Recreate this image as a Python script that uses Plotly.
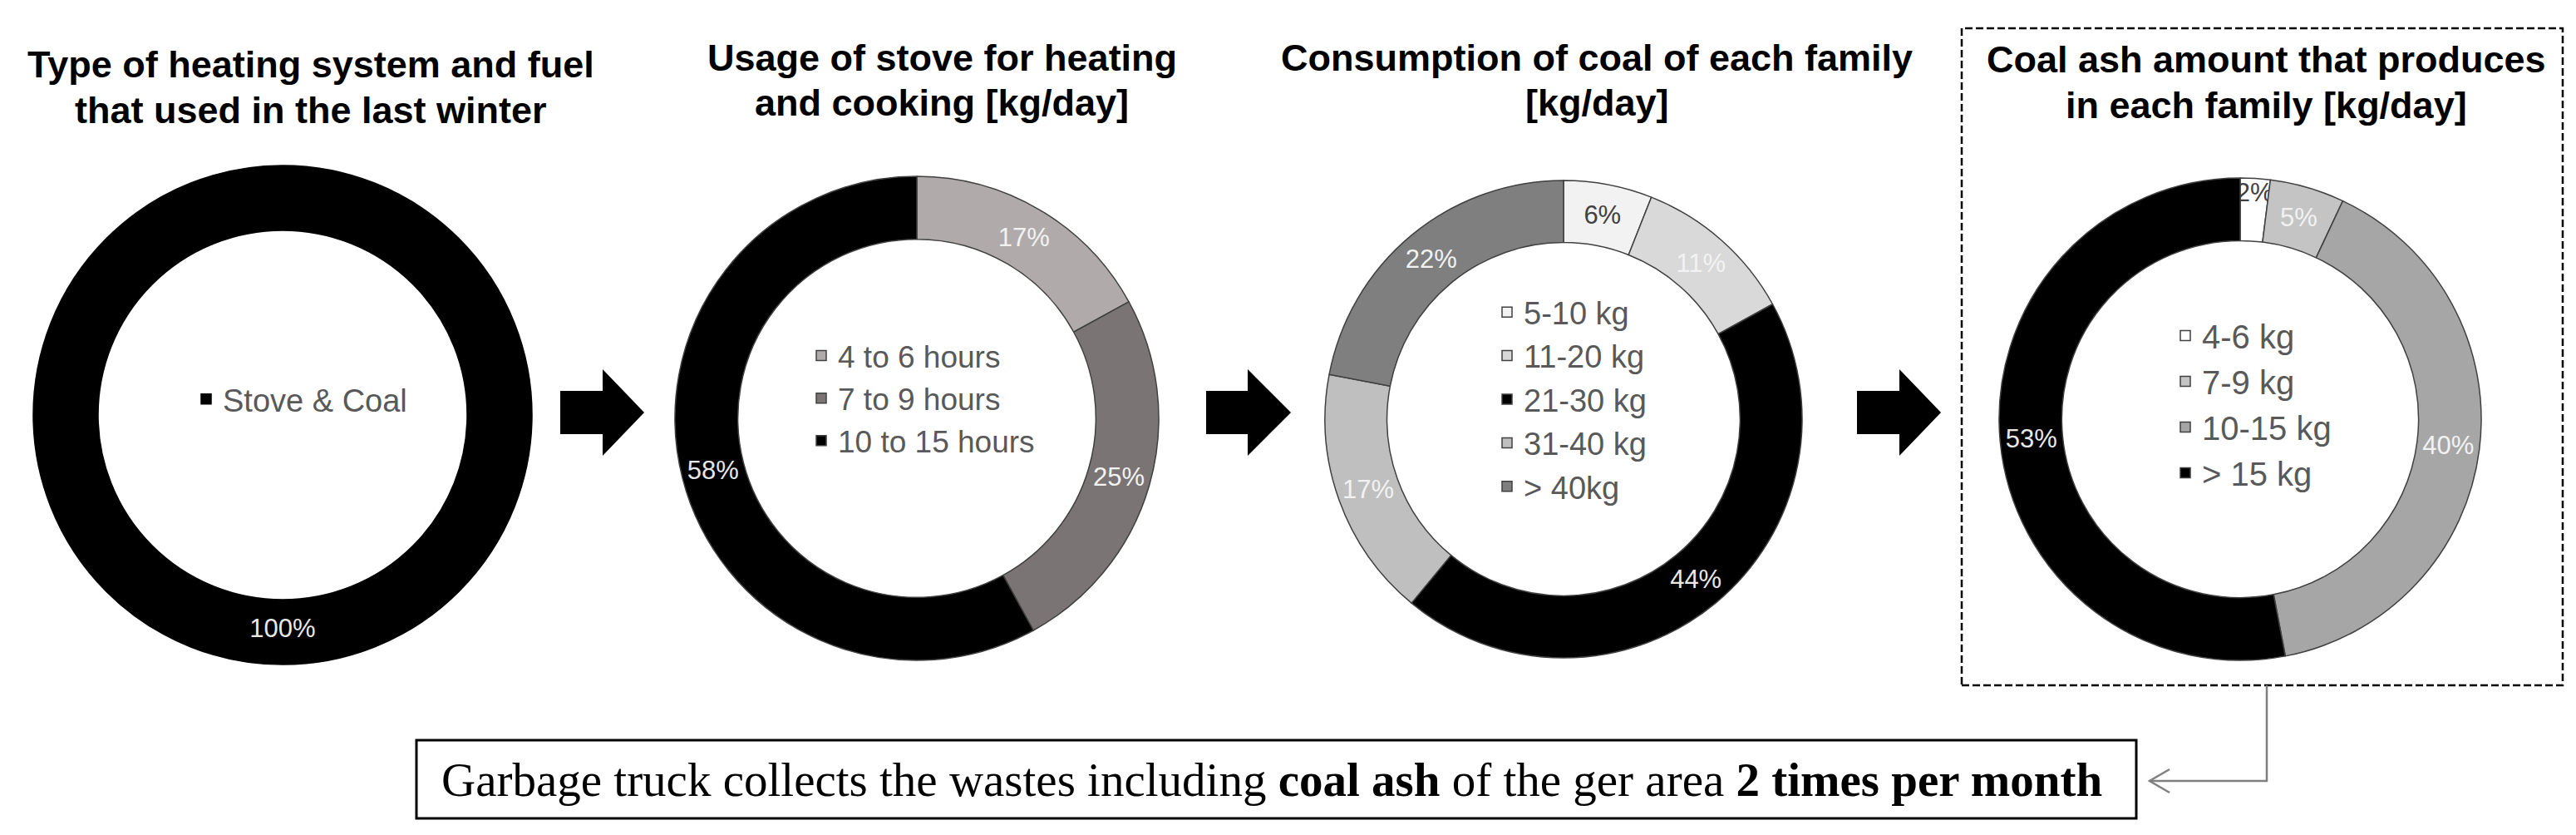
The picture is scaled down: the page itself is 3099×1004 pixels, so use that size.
import plotly.graph_objects as go

W, H = 3099, 1004

# ---------------- data ----------------
heating_labels = ["Stove & Coal"]
heating_values = [100]
heating_colors = ["#000000"]
heating_text_colors = ["#e8e8e8"]

stove_labels = ["4 to 6 hours", "7 to 9 hours", "10 to 15 hours"]
stove_values = [17, 25, 58]
stove_colors = ["#b0abaa", "#7a7574", "#000000"]
stove_text_colors = ["#f2f2f2", "#f2f2f2", "#e8e8e8"]

coal_labels = ["5-10 kg", "11-20 kg", "21-30 kg", "31-40 kg", "> 40kg"]
coal_values = [6, 11, 44, 17, 22]
coal_colors = ["#f2f2f2", "#d9d9d9", "#000000", "#bfbfbf", "#7f7f7f"]
coal_text_colors = ["#404040", "#f2f2f2", "#e8e8e8", "#f2f2f2", "#f2f2f2"]

ash_labels = ["4-6 kg", "7-9 kg", "10-15 kg", "> 15 kg"]
ash_values = [2, 5, 40, 53]
ash_colors = ["#ffffff", "#c4c4c4", "#a6a6a6", "#000000"]
ash_text_colors = ["#404040", "#f2f2f2", "#f2f2f2", "#e8e8e8"]

titles = [
    ["Type of heating system and fuel", "that used in the last winter"],
    ["Usage of stove for heating", "and cooking [kg/day]"],
    ["Consumption of coal of each family", "[kg/day]"],
    ["Coal ash amount that produces", "in each family [kg/day]"],
]

bottom_text = ("Garbage truck collects the wastes including <b>coal ash</b> "
               "of the ger area <b>2 times per month</b>")


# ---------------- helpers ----------------
def px(x):
    return x / W


def py(y):
    return 1 - y / H


def domain(cx, cy, r):
    return dict(x=[px(cx - r), px(cx + r)], y=[py(cy + r), py(cy - r)])


fig = go.Figure()

pies = [
    (heating_labels, heating_values, heating_colors, heating_text_colors, (332, 491, 300), 0.74, "legend", "#000000"),
    (stove_labels, stove_values, stove_colors, stove_text_colors, (1095, 495, 291), 0.74, "legend2", "#404040"),
    (coal_labels, coal_values, coal_colors, coal_text_colors, (1873, 496, 287), 0.74, "legend3", "#404040"),
    (ash_labels, ash_values, ash_colors, ash_text_colors, (2687, 496, 290), 0.74, "legend4", "#404040"),
]

for labels, values, colors, tcolors, (cx, cy, r), hole, leg, lc in pies:
    fig.add_trace(go.Pie(
        labels=labels, values=values, sort=False, direction="clockwise", rotation=0,
        hole=hole, domain=domain(cx, cy, r),
        marker=dict(colors=colors, line=dict(color=lc, width=1.5)),
        texttemplate="%{value}%", textposition="inside",
        insidetextorientation="horizontal",
        insidetextfont=dict(family="Liberation Sans, Arial, sans-serif", size=31, color=tcolors),
        hoverinfo="skip", legend=leg, showlegend=True,
    ))

leg_font = "Liberation Sans, Arial, sans-serif"


def legend_cfg(text_x, center_y, size):
    return dict(
        x=px(text_x - 42), xanchor="left", y=py(center_y), yanchor="middle",
        bgcolor="rgba(0,0,0,0)", borderwidth=0, traceorder="normal",
        font=dict(family=leg_font, size=size, color="#595959"),
    )


annotations = []
# titles (one annotation per line)
title_pos = [(366, 70, 124), (1125, 62, 115), (1913, 62, 115), (2718, 64, 118)]
for (lines, (tx, y1, y2)) in zip(titles, title_pos):
    for line, yy in zip(lines, (y1, y2)):
        annotations.append(dict(
            text="<b>%s</b>" % line, x=px(tx), y=py(yy), xref="paper", yref="paper",
            xanchor="center", yanchor="middle", showarrow=False,
            font=dict(family="Liberation Sans, Arial, sans-serif", size=45, color="#000000"),
        ))

annotations.append(dict(
    text=bottom_text, x=px(1522), y=py(929), xref="paper", yref="paper",
    xanchor="center", yanchor="middle", showarrow=False,
    font=dict(family="Liberation Serif, Times New Roman, serif", size=57, color="#000000"),
))

shapes = []


def block_arrow(x0, xh, x1, cy, sh=26, hh=52):
    pts = [(x0, cy - sh), (xh, cy - sh), (xh, cy - hh), (x1, cy), (xh, cy + hh), (xh, cy + sh), (x0, cy + sh)]
    path = "M " + " L ".join("%.5f,%.5f" % (px(a), py(b)) for a, b in pts) + " Z"
    return dict(type="path", path=path, xref="paper", yref="paper",
                fillcolor="#000000", line=dict(color="#000000", width=0))


for x0, xh, x1 in [(666, 717, 767), (1443, 1493, 1545), (2226, 2277, 2327)]:
    shapes.append(block_arrow(x0, xh, x1, 488))

# dashed box around the last donut
shapes.append(dict(type="rect", xref="paper", yref="paper",
                   x0=px(2352), x1=px(3075), y0=py(816), y1=py(26),
                   line=dict(color="#000000", width=2.5, dash="9px,4px")))
# bottom text box
shapes.append(dict(type="rect", xref="paper", yref="paper",
                   x0=px(493), x1=px(2562), y0=py(976), y1=py(882),
                   line=dict(color="#000000", width=3)))
# connector
conn = [(2719, 816), (2719, 931), (2579, 931)]
shapes.append(dict(type="path", xref="paper", yref="paper",
                   path="M " + " L ".join("%.5f,%.5f" % (px(a), py(b)) for a, b in conn),
                   line=dict(color="#7f7f7f", width=2.5)))
chev = [(2602, 917), (2578, 931), (2602, 945)]
shapes.append(dict(type="path", xref="paper", yref="paper",
                   path="M " + " L ".join("%.5f,%.5f" % (px(a), py(b)) for a, b in chev),
                   line=dict(color="#7f7f7f", width=2.5)))

fig.update_layout(
    width=W, height=H, margin=dict(l=0, r=0, t=0, b=0),
    paper_bgcolor="#ffffff", plot_bgcolor="#ffffff",
    showlegend=True,
    uniformtext=dict(minsize=31, mode="show"),
    legend=legend_cfg(262, 472, 38),
    legend2=legend_cfg(1002, 471, 37),
    legend3=legend_cfg(1827, 472, 38),
    legend4=legend_cfg(2643, 478, 40),
    annotations=annotations, shapes=shapes,
)

fig.write_html("out.html")
